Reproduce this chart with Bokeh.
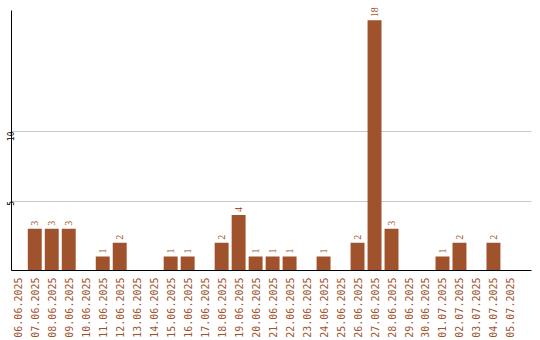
import math
from bokeh.plotting import figure
from bokeh.models import ColumnDataSource, FixedTicker, Range1d, LabelSet
from bokeh.embed import file_html
from bokeh.resources import INLINE

dates = ["06.06.2025", "07.06.2025", "08.06.2025", "09.06.2025", "10.06.2025",
         "11.06.2025", "12.06.2025", "13.06.2025", "14.06.2025", "15.06.2025",
         "16.06.2025", "17.06.2025", "18.06.2025", "19.06.2025", "20.06.2025",
         "21.06.2025", "22.06.2025", "23.06.2025", "24.06.2025", "25.06.2025",
         "26.06.2025", "27.06.2025", "28.06.2025", "29.06.2025", "30.06.2025",
         "01.07.2025", "02.07.2025", "03.07.2025", "04.07.2025", "05.07.2025"]
counts = [0, 3, 3, 3, 0, 1, 2, 0, 0, 1,
          1, 0, 2, 4, 1, 1, 1, 0, 1, 0,
          2, 18, 3, 0, 0, 1, 2, 0, 2, 0]
y_ticks = [5, 10]

BROWN = "#a0522d"
FONT = "DejaVu Sans Mono"

idx = list(range(len(dates)))
src = ColumnDataSource(dict(x=idx, y=counts))
nz = [i for i, c in enumerate(counts) if c > 0]
lab_src = ColumnDataSource(dict(x=[idx[i] for i in nz], y=[counts[i] for i in nz],
                                label=[str(counts[i]) for i in nz]))

p = figure(width=540, height=340, output_backend="svg", toolbar_location=None,
           x_range=Range1d(-0.37, 30.24), y_range=Range1d(0, 19.14),
           min_border_left=10, min_border_right=9, min_border_top=4,
           min_border_bottom=70, outline_line_color=None)
p.background_fill_color = "white"
p.border_fill_color = "white"

p.vbar(x="x", top="y", width=0.82, source=src, fill_color=BROWN, line_color=None)
labels = LabelSet(x="x", y="y", text="label", source=lab_src, angle=math.pi / 2,
                  text_align="left", text_baseline="middle", x_offset=0, y_offset=3,
                  text_font=FONT, text_font_size="10px", text_color=BROWN)
p.add_layout(labels)

p.xgrid.visible = False
p.ygrid.ticker = FixedTicker(ticks=y_ticks)
p.ygrid.grid_line_color = "#c8c8c8"

xa = p.xaxis[0]
xa.ticker = FixedTicker(ticks=idx)
xa.major_label_overrides = {i: d for i, d in zip(idx, dates)}
xa.major_label_orientation = math.pi / 2
xa.major_label_text_font = FONT
xa.major_label_text_font_size = "10px"
xa.major_label_text_color = BROWN
xa.major_tick_line_color = None
xa.major_tick_out = 0
xa.major_tick_in = 0
xa.minor_tick_line_color = None
xa.major_label_standoff = 7
xa.axis_line_color = "black"

ya = p.yaxis[0]
ya.ticker = FixedTicker(ticks=y_ticks)
ya.bounds = (0, 18.72)
ya.major_label_orientation = math.pi / 2
ya.major_label_text_font = FONT
ya.major_label_text_font_size = "8px"
ya.major_label_text_color = "black"
ya.major_tick_line_color = None
ya.major_tick_out = 0
ya.major_tick_in = 0
ya.minor_tick_line_color = None
ya.major_label_standoff = 1
ya.axis_line_color = "black"

open("out.html", "w").write(file_html(p, INLINE))
